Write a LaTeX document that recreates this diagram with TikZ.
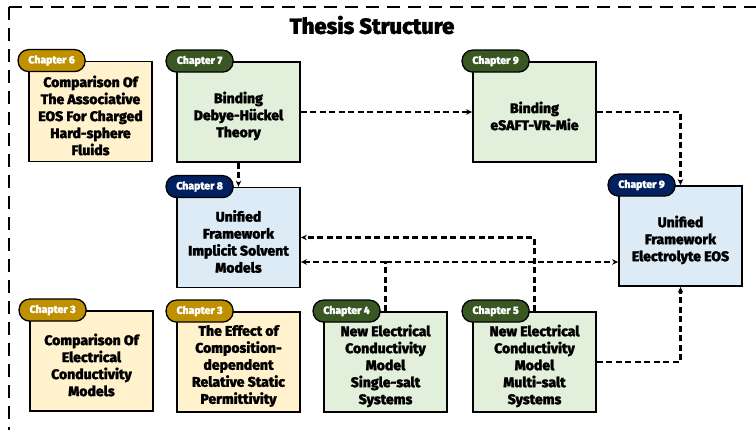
\documentclass[tikz,border=0pt]{standalone}
\usepackage{fontspec}
\setmainfont{Fira Sans}[BoldFont={Fira Sans ExtraBold}, BoldFeatures={FakeBold=1.6}]
\usetikzlibrary{arrows.meta}

\definecolor{tagGold}{HTML}{BF9000}
\definecolor{tagGreen}{HTML}{385723}
\definecolor{tagNavy}{HTML}{002060}
\definecolor{fillYellow}{HTML}{FFF2CC}
\definecolor{fillGreen}{HTML}{E2EFDA}
\definecolor{fillBlue}{HTML}{DDEBF7}

\tikzset{
  chbox/.style={draw=black, line width=1.8pt, minimum width=123pt, minimum height=100pt, inner sep=0pt},
  yelbox/.style={chbox, fill=fillYellow},
  grnbox/.style={chbox, fill=fillGreen},
  blubox/.style={chbox, fill=fillBlue},
  chtxt/.style={align=center, font=\bfseries\fontsize{14}{17}\selectfont},
  chtag/.style={draw=black, line width=1.3pt, rounded corners=10.5pt, minimum width=67pt, minimum height=22pt, inner sep=0pt, text=white, font=\bfseries\fontsize{10.5}{12}\selectfont},
  link/.style={line width=2.2pt, dash pattern=on 6pt off 3.5pt, -{Stealth[length=6pt,width=5.5pt]}}
}

\begin{document}
\begin{tikzpicture}[x=1pt, y=-1pt]
    \clip (0,0) rectangle (756,430);
    % Rahmen
    \draw[line width=2.5pt, dash pattern=on 13pt off 8pt] (9,7) rectangle (780,450);
    \node[font=\bfseries\fontsize{22}{26}\selectfont] (title) at (372,25) {Thesis Structure};
    % Kaesten
    \node[yelbox] (ch6) at (90.5,111.5) {};
    \node[grnbox] (ch7) at (238.5,112) {};
    \node[grnbox] (ch9b) at (534.5,112) {};
    \node[blubox] (ch8) at (238.5,237.5) {};
    \node[blubox] (ch9u) at (680.5,236) {};
    \node[yelbox] (ch3a) at (91.5,361) {};
    \node[yelbox] (ch3b) at (238.5,362) {};
    \node[grnbox] (ch4) at (385.5,362) {};
    \node[grnbox] (ch5) at (534.5,362) {};
    % Texte
    \node[chtxt] (ch6txt) at ([yshift=-4pt]ch6.center) {Comparison Of\\The Associative\\EOS For Charged\\Hard-sphere\\Fluids};
    \node[chtxt] (ch7txt) at ([yshift=-4pt]ch7.center) {Binding\\Debye-Hückel\\Theory};
    \node[chtxt] (ch9btxt) at ([yshift=-4pt]ch9b.center) {Binding\\eSAFT-VR-Mie};
    \node[chtxt] (ch8txt) at ([yshift=-4pt]ch8.center) {Unified\\Framework\\Implicit Solvent\\Models};
    \node[chtxt] (ch9utxt) at ([yshift=-4pt]ch9u.center) {Unified\\Framework\\Electrolyte EOS};
    \node[chtxt] (ch3atxt) at ([yshift=-4pt]ch3a.center) {Comparison Of\\Electrical\\Conductivity\\Models};
    \node[chtxt] (ch3btxt) at ([yshift=-4pt]ch3b.center) {The Effect of\\Composition-\\dependent\\Relative Static\\Permittivity};
    \node[chtxt] (ch4txt) at ([yshift=-4pt]ch4.center) {New Electrical\\Conductivity\\Model\\Single-salt\\Systems};
    \node[chtxt] (ch5txt) at ([yshift=-4pt]ch5.center) {New Electrical\\Conductivity\\Model\\Multi-salt\\Systems};
    % Verbindungen
    \coordinate (j4) at (385.5,262);
    \draw[link] (ch7.south) -- (ch8.north);
    \draw[link] (ch7.east) -- (ch9b.west);
    \draw[link] (ch9b.east) -| (ch9u.north);
    \draw[link] (ch5.north) |- (ch8.east);
    \draw[line width=2.2pt, dash pattern=on 6pt off 3.5pt] (ch4.north) -- (j4);
    \draw[link] (j4) -- (j4 -| ch8.east);
    \draw[link] (j4) -- (j4 -| ch9u.west);
    \draw[link] (ch5.east) -| (ch9u.south);
    % Kapitel-Marken
    \node[chtag, fill=tagGold] (ch6tag) at ([xshift=23.5pt]ch6.north west) {Chapter 6};
    \node[chtag, fill=tagGreen] (ch7tag) at ([xshift=23.5pt]ch7.north west) {Chapter 7};
    \node[chtag, fill=tagGreen] (ch9btag) at ([xshift=23.5pt]ch9b.north west) {Chapter 9};
    \node[chtag, fill=tagNavy] (ch8tag) at ([xshift=23.5pt]ch8.north west) {Chapter 8};
    \node[chtag, fill=tagNavy] (ch9utag) at ([xshift=23.5pt]ch9u.north west) {Chapter 9};
    \node[chtag, fill=tagGold] (ch3atag) at ([xshift=23.5pt]ch3a.north west) {Chapter 3};
    \node[chtag, fill=tagGold] (ch3btag) at ([xshift=23.5pt]ch3b.north west) {Chapter 3};
    \node[chtag, fill=tagGreen] (ch4tag) at ([xshift=23.5pt]ch4.north west) {Chapter 4};
    \node[chtag, fill=tagGreen] (ch5tag) at ([xshift=23.5pt]ch5.north west) {Chapter 5};
\end{tikzpicture}
\end{document}
